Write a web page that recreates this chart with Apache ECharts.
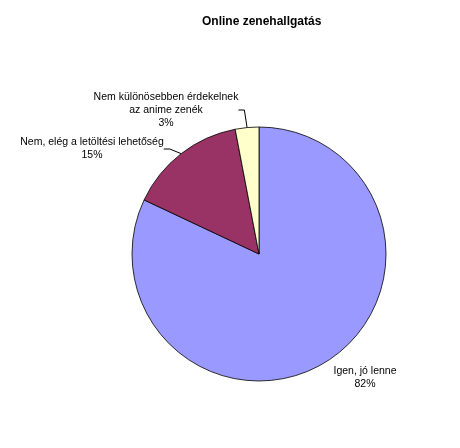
<!DOCTYPE html>
<html><head><meta charset="utf-8">
<script src="https://cdn.jsdelivr.net/npm/echarts@6/dist/echarts.min.js"></script>
<style>html,body{margin:0;padding:0;background:#fff}#c{width:460px;height:448px}</style>
</head><body><div id="c"></div>
<script>
const categories = ['Igen, jó lenne', 'Nem, elég a letöltési lehetőség', 'Nem különösebben érdekelnek\naz anime zenék'];
const values = [82, 15, 3];
const colors = ['#9999FF', '#993366', '#FFFFCC'];
const labelPos = [
  {x: 365, y: 378, align: 'center'},
  {x: 92, y: 149, align: 'center'},
  {x: 166, y: 110, align: 'center'}
];
const chart = echarts.init(document.getElementById('c'));
chart.setOption({
  animation: false,
  title: {
    text: 'Online zenehallgatás', left: 197, top: 11,
    textStyle: {fontFamily: 'Liberation Sans, Arial', fontSize: 12, fontWeight: 'bold', color: '#000'}
  },
  series: [{
    type: 'pie',
    center: [259, 254],
    radius: 127,
    startAngle: 90,
    clockwise: true,
    data: categories.map((n, i) => ({
      name: n, value: values[i], itemStyle: {color: colors[i]},
      labelLine: {show: i !== 0}
    })),
    itemStyle: {borderColor: '#000', borderWidth: 0.8},
    label: {
      show: true,
      formatter: p => p.name + '\n' + p.value + '%',
      fontFamily: 'Liberation Sans, Arial', fontSize: 10.5, lineHeight: 13, color: '#000',
      align: 'center'
    },
    labelLine: {show: true, length: 6, length2: 6, lineStyle: {color: '#000', width: 1}},
    labelLayout: function (params) {
      const p = labelPos[params.dataIndex];
      return {x: p.x, y: p.y, align: p.align, verticalAlign: 'middle'};
    }
  }]
});
</script></body></html>
